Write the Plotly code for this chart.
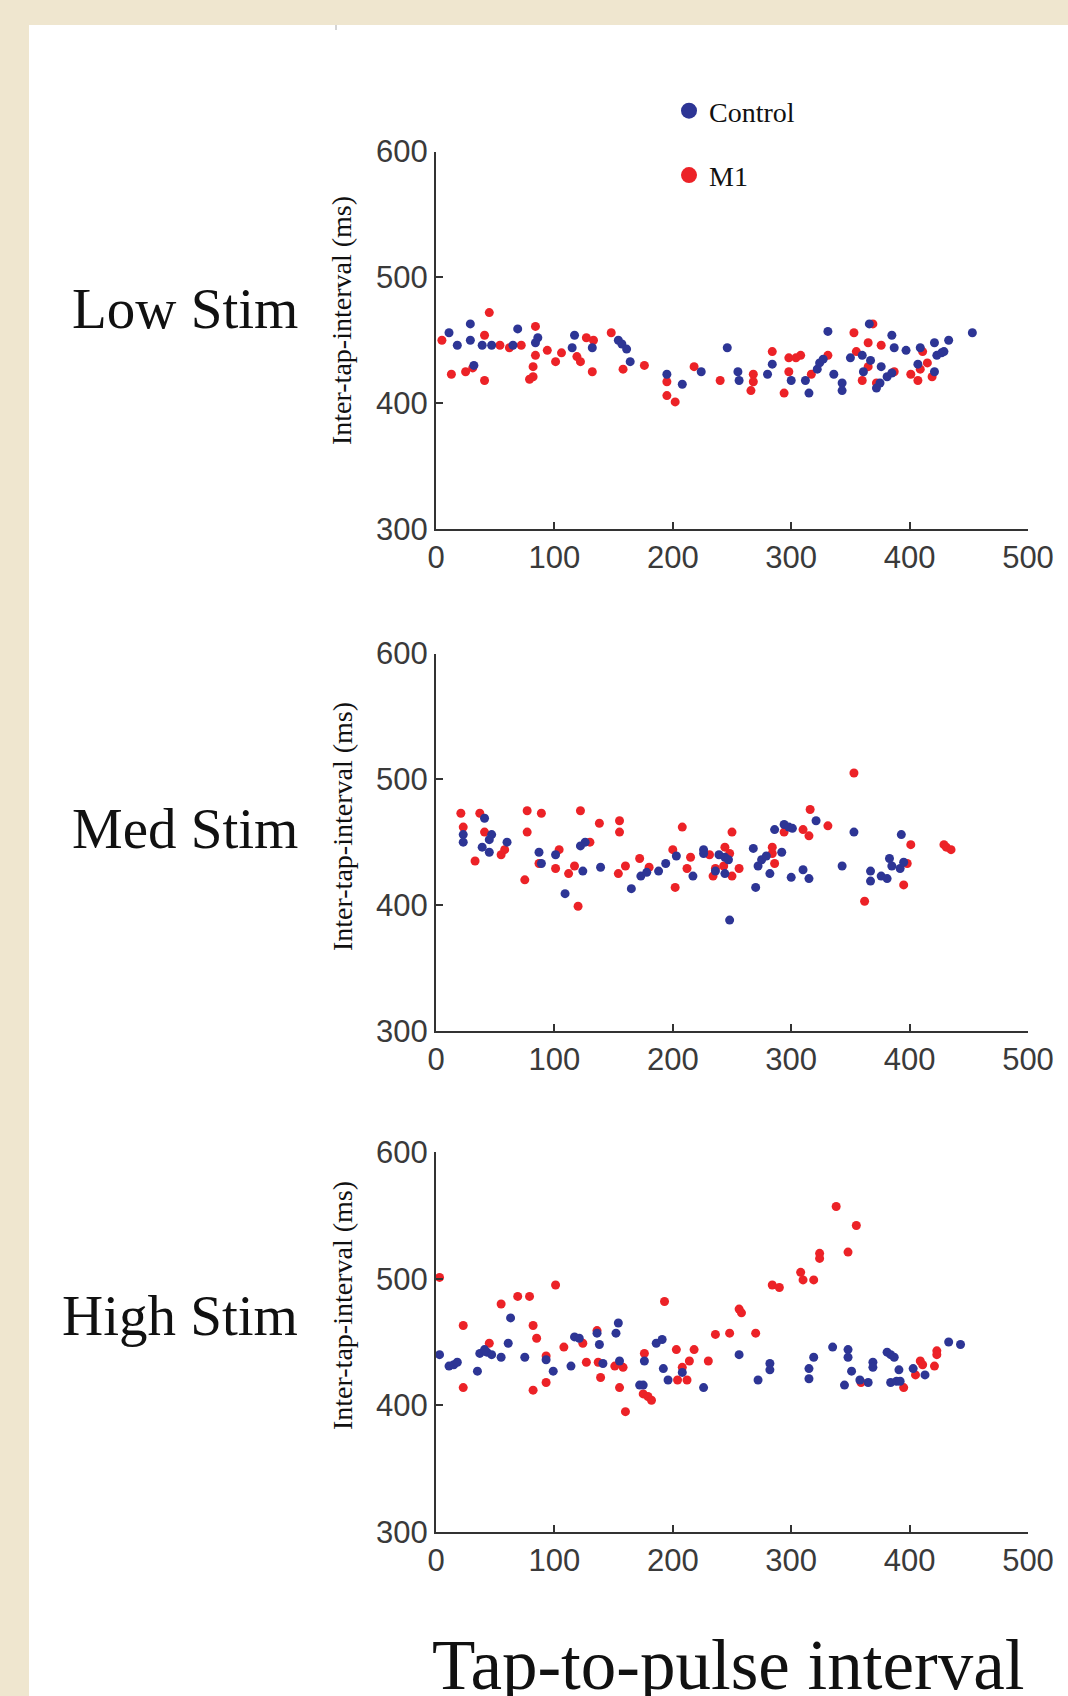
import plotly.graph_objects as go

# ---------------- data ----------------
x_ticks = [0, 100, 200, 300, 400, 500]
y_ticks = [300, 400, 500, 600]
panel_names = ["Low Stim", "Med Stim", "High Stim"]
series_names = ["Control", "M1"]

low_ctrl_x = [11, 18, 29, 29, 32, 39, 47, 65, 69, 86, 84, 117, 115, 132, 154, 157, 161, 164, 195, 208,
              224, 246, 255, 256, 280, 284, 300, 312, 315, 322, 324, 327, 331, 336, 343, 343, 350, 360,
              367, 366, 361, 376, 372, 375, 381, 385, 385, 387, 397, 409, 407, 421, 421, 423, 427, 429,
              433, 453]
low_ctrl_y = [456, 446, 463, 450, 430, 446, 446, 446, 459, 452, 448, 454, 444, 444, 450, 447, 443, 433, 423, 415,
              425, 444, 425, 418, 423, 431, 418, 418, 408, 427, 432, 435, 457, 423, 416, 410, 436, 438,
              434, 463, 425, 429, 412, 416, 421, 424, 454, 444, 442, 444, 431, 448, 425, 438, 440, 441,
              450, 456]
low_m1_x = [5, 45, 13, 25, 31, 41, 41, 54, 62, 72, 84, 84, 82, 82, 79, 94, 106, 101, 119, 122,
            127, 133, 132, 148, 158, 176, 195, 195, 202, 218, 240, 266, 268, 268, 284, 298, 308, 304,
            298, 294, 317, 331, 353, 355, 365, 369, 365, 360, 372, 376, 387, 401, 407, 409, 411, 415, 419]
low_m1_y = [450, 472, 423, 425, 428, 418, 454, 446, 444, 446, 461, 438, 429, 421, 419, 442, 440, 433, 437, 433,
            452, 450, 425, 456, 427, 430, 417, 406, 401, 429, 418, 410, 423, 417, 441, 436, 438, 436,
            425, 408, 423, 438, 456, 441, 448, 463, 429, 418, 416, 446, 425, 423, 418, 427, 441, 432, 421]

med_ctrl_x = [23, 23, 41, 47, 45, 39, 45, 60, 87, 89, 101, 109, 122, 126, 124, 139, 165, 173, 178, 188,
              194, 203, 217, 226, 226, 236, 239, 244, 247, 244, 248, 268, 270, 272, 275, 279, 282, 286,
              292, 294, 298, 301, 300, 310, 315, 321, 343, 353, 367, 367, 376, 381, 383, 385, 393, 392, 395]
med_ctrl_y = [456, 450, 469, 456, 452, 446, 442, 450, 442, 433, 440, 409, 447, 450, 427, 430, 413, 423, 426, 427,
              433, 439, 423, 444, 441, 427, 440, 438, 436, 425, 388, 445, 414, 431, 436, 439, 425, 460,
              442, 464, 462, 461, 422, 428, 421, 467, 431, 458, 427, 419, 423, 421, 437, 431, 456, 429, 434]
med_m1_x = [21, 23, 37, 41, 33, 55, 58, 77, 77, 75, 89, 87, 101, 104, 112, 117, 120, 122, 130, 138,
            155, 155, 154, 160, 172, 180, 200, 202, 208, 212, 215, 231, 234, 236, 243, 244, 248, 250,
            250, 256, 284, 284, 286, 294, 310, 315, 316, 331, 353, 362, 395, 398, 401, 429, 431, 435]
med_m1_y = [473, 462, 473, 458, 435, 440, 444, 475, 458, 420, 473, 433, 429, 444, 425, 431, 399, 475, 450, 465,
            467, 458, 425, 431, 437, 430, 444, 414, 462, 429, 438, 440, 423, 429, 431, 446, 441, 458,
            423, 429, 446, 441, 433, 458, 460, 455, 476, 463, 505, 403, 416, 433, 448, 448, 446, 444]

high_ctrl_x = [3, 11, 15, 18, 35, 37, 41, 43, 47, 55, 61, 63, 75, 93, 99, 114, 117, 121, 136, 138,
               141, 152, 154, 155, 172, 175, 176, 186, 191, 192, 196, 208, 226, 256, 272, 282, 282, 315,
               315, 319, 335, 348, 348, 345, 351, 358, 365, 369, 369, 381, 384, 387, 391, 384, 389, 392,
               403, 413, 433, 443]
high_ctrl_y = [440, 431, 432, 434, 427, 441, 444, 442, 440, 438, 449, 469, 438, 436, 427, 431, 454, 453, 457, 448,
               433, 457, 465, 435, 416, 416, 435, 449, 452, 429, 420, 426, 414, 440, 420, 433, 428, 429,
               421, 438, 446, 444, 438, 416, 427, 420, 418, 434, 430, 442, 440, 438, 428, 418, 419, 419,
               429, 424, 450, 448]
high_m1_x = [3, 23, 23, 45, 55, 69, 79, 82, 85, 82, 93, 93, 101, 108, 124, 127, 136, 137, 139, 151,
             158, 155, 160, 176, 175, 179, 182, 193, 203, 204, 208, 212, 214, 218, 230, 236, 248, 256,
             258, 270, 284, 290, 308, 310, 319, 324, 324, 338, 355, 348, 359, 395, 405, 409, 411, 421,
             423, 423]
high_m1_y = [501, 463, 414, 449, 480, 486, 486, 463, 453, 412, 439, 418, 495, 446, 449, 434, 459, 434, 422, 431,
             430, 414, 395, 441, 409, 407, 404, 482, 444, 420, 430, 420, 435, 444, 435, 456, 457, 476,
             473, 457, 495, 493, 505, 499, 499, 520, 516, 557, 542, 521, 418, 414, 424, 435, 432, 431,
             443, 440]

panels = [
    (low_ctrl_x, low_ctrl_y, low_m1_x, low_m1_y),
    (med_ctrl_x, med_ctrl_y, med_m1_x, med_m1_y),
    (high_ctrl_x, high_ctrl_y, high_m1_x, high_m1_y),
]

# ---------------- styling ----------------
W, H = 1068, 1696
BLUE = "#2D3595"
RED = "#EC2227"
AXC = "#333333"
BEIGE = "#EFE6CF"
TICKFONT = dict(family="Liberation Sans Narrow, Arial Narrow, Liberation Sans, Arial, sans-serif",
                size=31, color="#3a3a3a")
SERIF = "Liberation Serif, Times New Roman, serif"

x_dom = [436 / W, 1028 / W]
# pixel top / bottom of each panel's plotting area
panel_px = [(151.5, 529.0), (653.6, 1030.7), (1152.0, 1532.0)]

fig = go.Figure()

for i, (cx, cy, mx, my) in enumerate(panels):
    sfx = "" if i == 0 else str(i + 1)
    fig.add_trace(go.Scatter(x=mx, y=my, mode="markers", name="M1", showlegend=False,
                             marker=dict(color=RED, size=9), cliponaxis=False,
                             xaxis="x" + sfx, yaxis="y" + sfx))
    fig.add_trace(go.Scatter(x=cx, y=cy, mode="markers", name="Control", showlegend=False,
                             marker=dict(color=BLUE, size=9), cliponaxis=False,
                             xaxis="x" + sfx, yaxis="y" + sfx))

# legend entries
fig.add_trace(go.Scatter(x=[None], y=[None], mode="markers", name=series_names[0],
                         marker=dict(color=BLUE, size=16), legendgroup="c"))
fig.add_trace(go.Scatter(x=[None], y=[None], mode="markers", name=series_names[1],
                         marker=dict(color=RED, size=16), legendgroup="m"))

axis_common = dict(showline=True, linecolor=AXC, linewidth=2, ticks="inside", ticklen=7,
                   tickwidth=2, tickcolor=AXC, showgrid=False, zeroline=False,
                   tickfont=TICKFONT, automargin=False)

layout_axes = {}
for i, (top, bot) in enumerate(panel_px):
    sfx = "" if i == 0 else str(i + 1)
    ydom = [1 - bot / H, 1 - top / H]
    layout_axes["xaxis" + sfx] = dict(domain=x_dom, range=[0, 500], tickvals=x_ticks,
                                      anchor="y" + sfx, **axis_common)
    layout_axes["yaxis" + sfx] = dict(domain=ydom, range=[300, 600], tickvals=y_ticks,
                                      anchor="x" + sfx, **axis_common)

annotations = []
label_y_px = [309, 829, 1315]
ytitle_px = [321, 827, 1306]
for i in range(3):
    annotations.append(dict(text=panel_names[i], xref="paper", yref="paper",
                            x=300 / W, y=1 - label_y_px[i] / H, xanchor="right", yanchor="middle",
                            showarrow=False, font=dict(family=SERIF, size=57, color="#111111")))
    annotations.append(dict(text="Inter-tap-interval (ms)", xref="paper", yref="paper",
                            x=342 / W, y=1 - ytitle_px[i] / H, xanchor="center", yanchor="middle",
                            textangle=-90, showarrow=False,
                            font=dict(family=SERIF, size=28, color="#111111")))
annotations.append(dict(text="Tap-to-pulse interval", xref="paper", yref="paper",
                        x=430 / W, y=1 - 1665 / H, xanchor="left", yanchor="middle",
                        showarrow=False, font=dict(family=SERIF, size=71, color="#111111")))

shapes = [
    dict(type="rect", xref="paper", yref="paper", x0=29 / W, x1=1, y0=0, y1=1 - 25 / H,
         fillcolor="white", line=dict(width=0), layer="below"),
    dict(type="line", xref="paper", yref="paper", x0=336 / W, x1=336 / W, y0=1 - 25 / H, y1=1 - 30 / H,
         line=dict(color="#aaaaaa", width=1)),
]

fig.update_layout(
    width=W, height=H, autosize=False,
    margin=dict(l=0, r=0, t=0, b=0, pad=0),
    paper_bgcolor=BEIGE, plot_bgcolor="rgba(0,0,0,0)",
    showlegend=True,
    legend=dict(x=669 / W, y=1 - 86 / H, xanchor="left", yanchor="top",
                bgcolor="rgba(0,0,0,0)", font=dict(family=SERIF, size=28, color="#111111"),
                tracegroupgap=25, itemwidth=30),
    annotations=annotations, shapes=shapes,
    **layout_axes,
)

fig.write_html("out.html")
